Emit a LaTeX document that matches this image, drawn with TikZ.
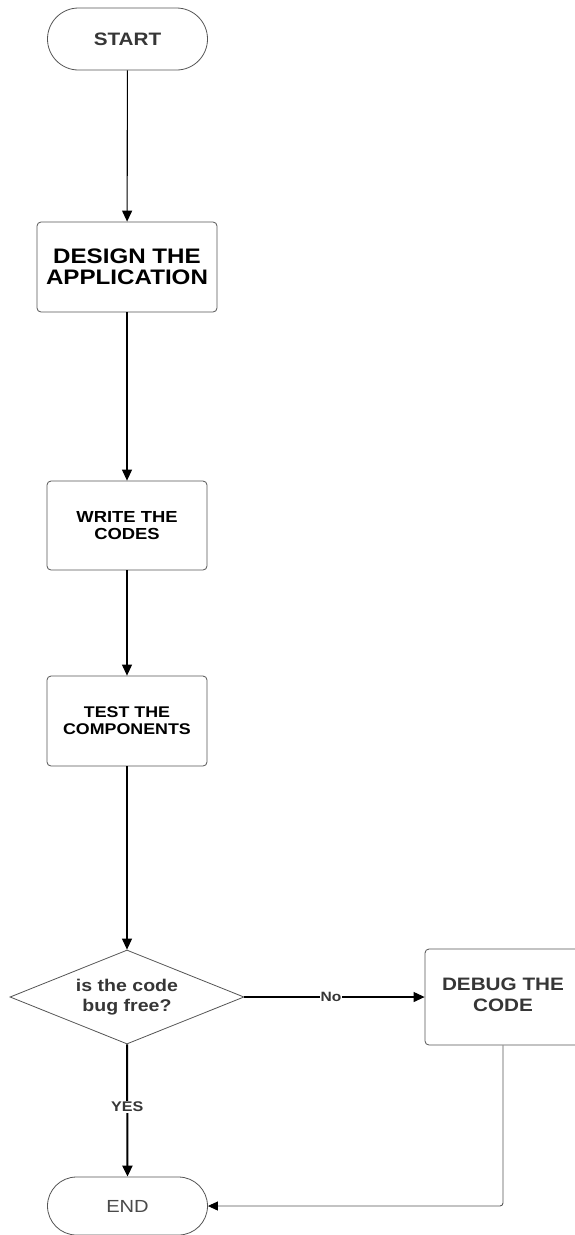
\documentclass[tikz,border=0pt]{standalone}
\usepackage{fontspec}
\setmainfont{Liberation Sans}[FakeStretch=1.15]
\usetikzlibrary{arrows.meta,shapes.misc,shapes.geometric}

\definecolor{edgegray}{HTML}{555555}
\definecolor{textdark}{HTML}{363636}
\definecolor{textmid}{HTML}{4a4a4a}

\tikzset{
  terminal/.style={rounded rectangle, draw=edgegray, line width=0.8pt,
    minimum width=160pt, minimum height=62pt, inner sep=0pt},
  procbox/.style={rectangle, rounded corners=4pt, draw=edgegray, line width=0.8pt,
    align=center, inner sep=0pt},
  decision/.style={diamond, draw=edgegray, line width=0.8pt, align=center,
    shape aspect=2.6, minimum width=234pt, minimum height=94pt, inner sep=0pt},
  flow/.style={-{Triangle[length=11pt,width=10pt]}, line width=1.1pt, black},
  tag/.style={fill=white, inner sep=1pt, text=textdark}
}

\begin{document}
\begin{tikzpicture}[x=1pt,y=-1pt]
  \useasboundingbox (0,0) rectangle (575,1235);
  \fill[white] (0,0) rectangle (575,1235);

  % terminals and process steps
  \node[terminal, font=\bfseries\fontsize{18}{20}\selectfont, text=textdark] (start) at (127.5,39) {START};
  \node[procbox, minimum width=180pt, minimum height=90pt,
        font=\bfseries\fontsize{21}{21}\selectfont] (design) at (127,267) {DESIGN THE\\APPLICATION};
  \node[procbox, minimum width=160pt, minimum height=89pt,
        font=\bfseries\fontsize{16}{17}\selectfont] (write) at (127,525.5) {WRITE THE\\CODES};
  \node[procbox, minimum width=160pt, minimum height=90pt,
        font=\bfseries\fontsize{15.5}{17}\selectfont] (test) at (127,721) {TEST THE\\COMPONENTS};
  \node[decision, font=\bfseries\fontsize{17}{20}\selectfont, text=textdark] (check) at (127,997) {is the code\\bug free?};
  \node[procbox, minimum width=156pt, minimum height=96pt] (debug) at (503,997) {};
  \node[align=center, font=\bfseries\fontsize{18}{21}\selectfont, text=textdark] (debugtext) at (503,995) {DEBUG THE\\CODE};
  \node[terminal, minimum height=58pt, font=\fontsize{17.5}{20}\selectfont, text=textmid] (end) at (127.5,1206) {END};

  % connectors
  \draw[flow] (start) -- (design);
  \draw[flow] (design) -- (write);
  \draw[flow] (write) -- (test);
  \draw[flow] (test) -- (check);
  \draw[flow] (check.east) -- node[tag, pos=0.48, font=\bfseries\fontsize{13.5}{15}\selectfont] {No} (debug.west);
  \draw[flow, line width=2pt] (check.south) -- node[tag, pos=0.47, font=\bfseries\fontsize{14}{16}\selectfont] {YES} (end.north);
  \draw[-{Triangle[length=10pt,width=9pt,color=black]}, line width=0.9pt, draw=edgegray, rounded corners=3pt]
    (debug.south) |- (end.east);
\end{tikzpicture}
\end{document}
